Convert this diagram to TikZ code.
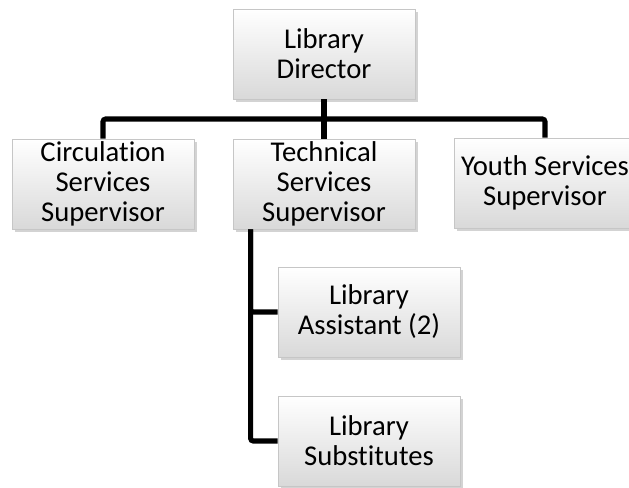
\documentclass[tikz,border=0pt]{standalone}
\usepackage{fontspec}
\setmainfont{Carlito}[Ligatures=NoCommon]
\usepackage{tikz}
\usetikzlibrary{positioning, calc, shadows}

\tikzset{
    orgbox/.style={draw=gray!45, line width=0.6pt, top color=white, bottom color=gray!30,
        minimum width=136.5pt, minimum height=67.5pt, inner sep=0pt, align=center,
        font=\fontsize{21.5pt}{22.5pt}\selectfont,
        drop shadow={opacity=0.35, shadow xshift=2pt, shadow yshift=-2.5pt}},
    link/.style={line width=3.8pt, rounded corners=2pt}
}

\begin{document}
\begin{tikzpicture}[x=0.75pt, y=-0.75pt]
        \useasboundingbox (0,0) rectangle (629,487);
        \begin{scope}
        \clip (0,0) rectangle (629,487);

        % Boxes
        \node[orgbox] (director) at (324,54) {Library\\Director};
        \node[orgbox] (circ) at (103,184) {Circulation\\Services\\Supervisor};
        \node[orgbox] (tech) at (324,184) {Technical\\Services\\Supervisor};
        \node[orgbox] (youth) at (545,183) {Youth Services\\Supervisor};
        \node[orgbox] (assist) at (369,312) {Library\\Assistant (2)};
        \node[orgbox] (subs) at (369,441) {Library\\Substitutes};

        % Lines
        \coordinate (bar) at ($(director.south)!0.5!(tech.north)$);
        \draw[link] (director.south) -- (tech.north);
        \draw[link] (circ.north) |- (bar) -| (youth.north);
        \coordinate (trunk) at ($(tech.south west)+(18,0)$);
        \draw[link] (trunk) |- (assist.west);
        \draw[link] (trunk) |- (subs.west);
        \end{scope}

    \end{tikzpicture}
\end{document}
